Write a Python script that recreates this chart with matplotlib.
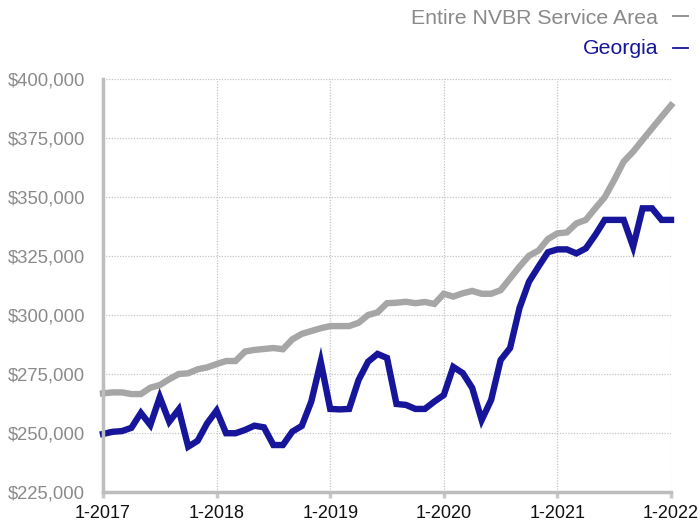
import matplotlib
matplotlib.use("Agg")
import matplotlib.pyplot as plt
from matplotlib.lines import Line2D
from matplotlib.ticker import FuncFormatter, FixedLocator

plt.rcParams['font.family'] = ['Liberation Sans', 'DejaVu Sans']

# Monthly values Jan 2017 .. Jan 2022 (61 months)
nvbr = [266800, 267200, 267200, 266500, 266500, 269200, 270300, 272800, 275000, 275300, 277000, 277800,
        279200, 280500, 280500, 284500, 285200, 285600, 286000, 285500, 289700, 292000, 293200, 294400,
        295300, 295300, 295300, 296700, 300000, 301100, 305000, 305200, 305600, 305000, 305500, 304700,
        309000, 307800, 309200, 310200, 309000, 309000, 310500, 315500, 320500, 325100, 327300, 332200,
        334600, 335000, 338800, 340300, 345200, 349900, 357200, 365000, 369200, 374200, 379100, 384000,
        388800]
georgia = [249600, 250500, 250800, 252200, 258500, 253400, 265200, 254800, 260000, 244200, 246700, 254100,
           259500, 249900, 249900, 251300, 253100, 252400, 244900, 244900, 250600, 253000, 263300, 280200,
           260200, 260000, 260200, 272500, 280200, 283500, 281800, 262300, 261900, 260200, 260200, 263300,
           266100, 278000, 275400, 269100, 255500, 264000, 280900, 286000, 303000, 314100, 320500, 326600,
           327800, 327800, 326100, 328200, 333900, 340300, 340300, 340300, 328900, 345200, 345200, 340300,
           340300]
year_labels = ["1-2017", "1-2018", "1-2019", "1-2020", "1-2021", "1-2022"]
series_names = ["Entire NVBR Service Area", "Georgia"]

gray = "#a6a6a6"
blue = "#17169a"
label_gray = "#8a8a8a"

fig = plt.figure(figsize=(7.0, 5.23), dpi=100)
ax = fig.add_axes([103/700, 1-492/523, (671-103)/700, (492-79)/523])

months = list(range(len(nvbr)))
ax.plot(months, nvbr, color=gray, lw=4.6, solid_joinstyle='miter', zorder=3, clip_on=False)
ax.plot(months, georgia, color=blue, lw=4.6, solid_joinstyle='miter', zorder=4, clip_on=False)

ax.set_xlim(0, 60)
ax.set_ylim(225000, 400000)
ax.yaxis.set_major_locator(FixedLocator(list(range(225000, 400001, 25000))))
ax.yaxis.set_major_formatter(FuncFormatter(lambda v, p: f"${v:,.0f}"))
ax.xaxis.set_major_locator(FixedLocator([0, 12, 24, 36, 48, 60]))
ax.set_xticklabels(year_labels)

ax.grid(True, color="#c4c4c4", linestyle=(0, (1, 1.2)), lw=0.9, zorder=0)
for s in ['top', 'right']:
    ax.spines[s].set_visible(False)
for s in ['left', 'bottom']:
    ax.spines[s].set_color("#bdbdbd")
    ax.spines[s].set_linewidth(2.5)
    ax.spines[s].set_zorder(5)

ax.tick_params(axis='y', length=0, pad=13, labelsize=13.3, labelcolor=label_gray)
ax.tick_params(axis='x', length=4, width=2.5, color="#c8c8c8", pad=5.5, labelsize=13, labelcolor="#111111")

# legend drawn as right-aligned text with colored dashes
fig.text(658/700, 1-18/523, series_names[0], ha='right', va='center', color=label_gray, fontsize=15.3)
fig.text(658/700, 1-48/523, series_names[1], ha='right', va='center', color=blue, fontsize=15.3)
fig.add_artist(Line2D([673/700, 688/700], [1-16/523, 1-16/523], transform=fig.transFigure,
                      color=label_gray, lw=1.3))
fig.add_artist(Line2D([673/700, 688/700], [1-48/523, 1-48/523], transform=fig.transFigure,
                      color=blue, lw=1.3))

fig.savefig("out.png", dpi=100)
